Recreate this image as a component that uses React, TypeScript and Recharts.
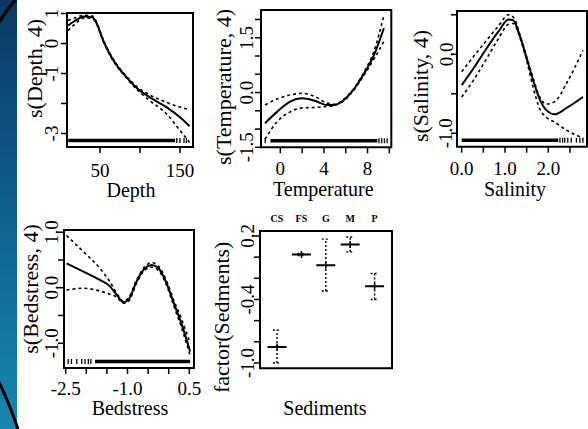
import React from "react";
import {
  ComposedChart,
  ErrorBar,
  Line,
  ReferenceArea,
  Scatter,
  XAxis,
  YAxis,
} from "recharts";

// values (GAM partial effects)
const depthX = [10, 20, 30, 40, 46, 54, 62, 71, 83, 96, 112, 133, 150, 162];
const depthFit = [0.6, 0.78, 0.9, 0.88, 0.66, 0.1, -0.34, -0.73, -1.12, -1.48, -1.79, -2.12, -2.46, -2.76];
const depthUpper = [0.77, 0.87, 0.94, 0.92, 0.69, 0.13, -0.31, -0.7, -1.09, -1.44, -1.71, -1.96, -2.12, -2.21];
const depthLower = [0.43, 0.68, 0.85, 0.84, 0.63, 0.07, -0.37, -0.76, -1.15, -1.53, -1.9, -2.34, -2.9, -3.3];
const depthRugBand = [10.4, 143.8];
const depthRugTicks = [146, 150, 155, 158];

const temperatureX = [-1.4, -0.3, 0.9, 2.0, 3.1, 4.3, 4.9, 5.8, 6.7, 7.6, 8.6, 9.5];
const temperatureFit = [-0.84, -0.53, -0.25, -0.16, -0.22, -0.34, -0.34, -0.21, 0.07, 0.48, 1.03, 1.76];
const temperatureUpper = [-0.34, -0.18, -0.07, -0.02, -0.1, -0.29, -0.32, -0.19, 0.09, 0.52, 1.14, 2.1];
const temperatureLower = [-1.28, -0.8, -0.53, -0.42, -0.41, -0.38, -0.36, -0.23, 0.05, 0.44, 0.92, 1.4];
const temperatureRugBand = [-0.9, 8.9];
const temperatureRugTicks = [-1.38, 9.05, 9.3, 9.55, 9.8];

const salinityX = [0, 0.27, 0.58, 0.85, 1.08, 1.19, 1.35, 1.5, 1.65, 1.81, 1.96, 2.15, 2.42, 2.8];
const salinityFit = [-0.39, -0.18, 0.08, 0.29, 0.44, 0.43, 0.22, -0.05, -0.33, -0.58, -0.71, -0.76, -0.68, -0.54];
const salinityUpper = [-0.22, -0.03, 0.18, 0.36, 0.5, 0.47, 0.24, -0.03, -0.3, -0.55, -0.63, -0.6, -0.37, 0.05];
const salinityLower = [-0.54, -0.33, -0.05, 0.2, 0.38, 0.39, 0.2, -0.08, -0.42, -0.7, -0.8, -0.86, -0.96, -1.06];
const salinityRugBand = [0, 2.23];
const salinityRugTicks = [2.27, 2.33, 2.38, 2.45, 2.53, 2.65, 2.73, 2.8];

const bedstressX = [-2.48, -2.07, -1.67, -1.42, -1.26, -1.1, -0.98, -0.78, -0.58, -0.41, -0.25, -0.05, 0.11, 0.32, 0.52];
const bedstressFit = [0.44, 0.29, 0.14, 0.02, -0.13, -0.26, -0.22, 0.11, 0.35, 0.41, 0.35, 0.08, -0.25, -0.67, -1.15];
const bedstressUpper = [0.94, 0.65, 0.35, 0.1, -0.1, -0.24, -0.19, 0.14, 0.38, 0.45, 0.39, 0.12, -0.2, -0.58, -1.0];
const bedstressLower = [-0.04, -0.01, -0.06, -0.12, -0.17, -0.28, -0.25, 0.08, 0.32, 0.37, 0.31, 0.04, -0.3, -0.74, -1.22];
const bedstressRugBand = [-1.79, 0.52];
const bedstressRugTicks = [-2.44, -2.36, -2.23, -2.11, -2.03, -1.95, -1.89];

const sedimentNames = ["CS", "FS", "G", "M", "P"];
const sedimentMean = [-0.85, 0.024, -0.077, 0.12, -0.275];
const sedimentUpper = [-0.69, 0.034, 0.17, 0.19, -0.155];
const sedimentLower = [-1.0, 0.014, -0.32, 0.05, -0.4];

const FONT = "'Liberation Serif', 'Times New Roman', serif";
const PAD_L = 70;
const PAD_T = 25;
const PAD_R = 10;
const PAD_B = 70;

type Spec = {
  box: number[];
  xDomain: number[];
  yDomain: number[];
  xTicks: number[];
  xLabeled: number[];
  xDec: number;
  yTicks: number[];
  yLabeled: number[];
  yDec: number;
  yTickX: number;
  xTickY: number;
  xTitle: string;
  xTitlePos: number[];
  yTitle: string;
  yTitlePos: number[];
  names?: string[];
};

const has = (list: number[], v: number) => list.some((l) => Math.abs(l - v) < 1e-9);

function Panel({ s, data, children }: { s: Spec; data?: any[]; children: React.ReactNode }) {
  const left = s.box[0] - PAD_L;
  const top = s.box[1] - PAD_T;
  const w = s.box[2] - s.box[0];
  const h = s.box[3] - s.box[1];

  const xTick = (p: any) => {
    const v = p.payload.value;
    if (s.names) {
      return (
        <text x={p.x} y={s.box[1] - 12 - top} textAnchor="middle" dominantBaseline="central"
          fontSize={10} fontWeight="bold" fontFamily={FONT} fill="#000">
          {s.names[Math.round(v) - 1]}
        </text>
      );
    }
    if (!has(s.xLabeled, v)) return <g />;
    return (
      <text x={p.x} y={s.xTickY - top} textAnchor="middle" dominantBaseline="central"
        fontSize={19} fontFamily={FONT} fill="#000">
        {v.toFixed(s.xDec)}
      </text>
    );
  };

  const yTick = (p: any) => {
    const v = p.payload.value;
    if (!has(s.yLabeled, v)) return <g />;
    const x = s.yTickX - left;
    return (
      <text x={x} y={p.y} transform={`rotate(-90 ${x} ${p.y})`} textAnchor="middle"
        dominantBaseline="central" fontSize={19} fontFamily={FONT} fill="#000">
        {v.toFixed(s.yDec)}
      </text>
    );
  };

  const xTitle = () => (
    <text x={s.xTitlePos[0] - left} y={s.xTitlePos[1] - top} textAnchor="middle"
      dominantBaseline="central" fontSize={20} fontFamily={FONT} fill="#000">
      {s.xTitle}
    </text>
  );

  const yTitle = () => {
    const x = s.yTitlePos[0] - left;
    const y = s.yTitlePos[1] - top;
    return (
      <text x={0} y={0} transform={`translate(${x} ${y}) rotate(-90) scale(1.1 1)`}
        textAnchor="middle" dominantBaseline="central" fontSize={20} fontFamily={FONT}
        fill="#000">
        {s.yTitle}
      </text>
    );
  };

  return (
    <div style={{ position: "absolute", left, top }}>
      <ComposedChart width={w + PAD_L + PAD_R} height={h + PAD_T + PAD_B} data={data}
        margin={{ top: PAD_T, right: PAD_R, bottom: 0, left: 0 }}>
        <XAxis type="number" dataKey="x" domain={s.xDomain} allowDataOverflow ticks={s.xTicks}
          interval={0} height={PAD_B} axisLine={false}
          tickLine={s.names ? false : { stroke: "#000", strokeWidth: 1.5 }} tickSize={6}
          tick={xTick} label={xTitle} />
        <YAxis type="number" domain={s.yDomain} allowDataOverflow ticks={s.yTicks} interval={0}
          width={PAD_L} axisLine={false} tickLine={{ stroke: "#000", strokeWidth: 1.5 }}
          tickSize={6} tick={yTick} label={yTitle} />
        <ReferenceArea x1={s.xDomain[0]} x2={s.xDomain[1]} y1={s.yDomain[0]} y2={s.yDomain[1]}
          fill="none" fillOpacity={0} stroke="#000" strokeWidth={2} />
        {children}
      </ComposedChart>
    </div>
  );
}

const RugTick = (p: any) => (
  <line x1={p.cx} x2={p.cx} y1={p.cy - 9} y2={p.cy - 4} stroke="#000" strokeWidth={1.3} />
);

const MeanMark = (p: any) => (
  <g stroke="#000">
    <line x1={p.cx - 9.5} x2={p.cx + 9.5} y1={p.cy} y2={p.cy} strokeWidth={2} />
    <line x1={p.cx} x2={p.cx} y1={p.cy - 3.5} y2={p.cy + 3.5} strokeWidth={1.5} />
  </g>
);

function SmoothPanel({ s, xs, fit, upper, lower, rugBand, rugTicks }: {
  s: Spec; xs: number[]; fit: number[]; upper: number[]; lower: number[];
  rugBand: number[]; rugTicks: number[];
}) {
  const rows = xs.map((x, i) => ({ x, fit: fit[i], upper: upper[i], lower: lower[i] }));
  const h = s.box[3] - s.box[1];
  const span = s.yDomain[1] - s.yDomain[0];
  const rugY = s.yDomain[0] + (6.5 / h) * span;
  const band = rugBand.map((x) => ({ x, rug: rugY }));
  const ticks = rugTicks.map((x) => ({ x, y: s.yDomain[0] }));
  return (
    <Panel s={s} data={rows}>
      <Line data={band} dataKey="rug" stroke="#000" strokeWidth={3.5} dot={false}
        strokeLinecap="butt" isAnimationActive={false} />
      <Scatter data={ticks} dataKey="y" shape={RugTick} isAnimationActive={false} />
      <Line type="monotone" dataKey="upper" stroke="#000" strokeWidth={1.6}
        strokeDasharray="3 3" dot={false} isAnimationActive={false} />
      <Line type="monotone" dataKey="lower" stroke="#000" strokeWidth={1.6}
        strokeDasharray="3 3" dot={false} isAnimationActive={false} />
      <Line type="monotone" dataKey="fit" stroke="#000" strokeWidth={2} dot={false}
        isAnimationActive={false} />
    </Panel>
  );
}

const depthSpec: Spec = {
  box: [67, 12.5, 193, 146.5], xDomain: [8.75, 166.25], yDomain: [-3.45, 1.017],
  xTicks: [50, 100, 150], xLabeled: [50, 150], xDec: 0,
  yTicks: [-3, -2, -1, 0, 1], yLabeled: [-3, -1, 0, 1], yDec: 0,
  yTickX: 52, xTickY: 170, xTitle: "Depth", xTitlePos: [131, 189],
  yTitle: "s(Depth, 4)", yTitlePos: [35, 68],
};

const temperatureSpec: Spec = {
  box: [260.7, 10, 391, 147.3], xDomain: [-1.77, 10.18], yDomain: [-1.5, 2.26],
  xTicks: [0, 2, 4, 6, 8, 10], xLabeled: [0, 4, 8], xDec: 0,
  yTicks: [-1.5, -1, -0.5, 0, 0.5, 1, 1.5, 2], yLabeled: [-1.5, 0, 1.5], yDec: 1,
  yTickX: 246, xTickY: 169, xTitle: "Temperature", xTitlePos: [323, 189],
  yTitle: "s(Temperature, 4)", yTitlePos: [224, 87],
};

const salinitySpec: Spec = {
  box: [457, 11, 587, 146.7], xDomain: [-0.109, 2.894], yDomain: [-1.17, 0.548],
  xTicks: [0, 0.5, 1, 1.5, 2, 2.5], xLabeled: [0, 1, 2], xDec: 1,
  yTicks: [-1, -0.5, 0, 0.5], yLabeled: [-1, 0], yDec: 1,
  yTickX: 446, xTickY: 169, xTitle: "Salinity", xTitlePos: [515, 189],
  yTitle: "s(Salinity, 4)", yTitlePos: [421, 86],
};

const bedstressSpec: Spec = {
  box: [64, 230, 194, 368], xDomain: [-2.541, 0.614], yDomain: [-1.447, 1.04],
  xTicks: [-2.5, -2, -1.5, -1, -0.5, 0, 0.5], xLabeled: [-2.5, -1, 0.5], xDec: 1,
  yTicks: [-1, -0.5, 0, 0.5, 1], yLabeled: [-1, 0, 1], yDec: 1,
  yTickX: 51.5, xTickY: 388, xTitle: "Bedstress", xTitlePos: [130, 408],
  yTitle: "s(Bedstress, 4)", yTitlePos: [31, 289],
};

const sedimentSpec: Spec = {
  box: [260, 230.7, 392, 368], xDomain: [0.303, 5.713], yDomain: [-1.0505, 0.247],
  xTicks: [1, 2, 3, 4, 5], xLabeled: [], xDec: 0,
  yTicks: [-1, -0.8, -0.6, -0.4, -0.2, 0, 0.2], yLabeled: [-1, -0.4, 0.2], yDec: 1,
  yTickX: 248, xTickY: 388, xTitle: "Sediments", xTitlePos: [325, 408],
  yTitle: "factor(Sedments)", yTitlePos: [222, 317], names: sedimentNames,
};

function SedimentPanel() {
  const rows = sedimentNames.map((_, i) => ({
    x: i + 1,
    y: sedimentMean[i],
    err: [sedimentMean[i] - sedimentLower[i], sedimentUpper[i] - sedimentMean[i]],
  }));
  return (
    <Panel s={sedimentSpec}>
      <Scatter data={rows} dataKey="y" shape={MeanMark} isAnimationActive={false}>
        <ErrorBar dataKey="err" direction="y" width={4} stroke="#000" strokeWidth={1.4}
          strokeDasharray="2 2" isAnimationActive={false} />
      </Scatter>
    </Panel>
  );
}

export default function App() {
  return (
    <div style={{ position: "absolute", left: 0, top: 0, width: 588, height: 429,
      background: "#fff", overflow: "hidden" }}>
      <svg width={588} height={429} style={{ position: "absolute", left: 0, top: 0 }}>
        <defs>
          <linearGradient id="slideBg" x1="0" y1="0" x2="0" y2="1">
            <stop offset="0%" stopColor="#0b3865" />
            <stop offset="55%" stopColor="#0f6595" />
            <stop offset="100%" stopColor="#1587b0" />
          </linearGradient>
        </defs>
        <rect x={0} y={0} width={17} height={429} fill="url(#slideBg)" />
        <path d="M 17 -2 Q 6 10 -3 26" stroke="#000" strokeWidth={3} fill="none" />
        <path d="M -3 378 Q 9 402 19 432" stroke="#000" strokeWidth={3} fill="none" />
      </svg>
      <SmoothPanel s={depthSpec} xs={depthX} fit={depthFit} upper={depthUpper}
        lower={depthLower} rugBand={depthRugBand} rugTicks={depthRugTicks} />
      <SmoothPanel s={temperatureSpec} xs={temperatureX} fit={temperatureFit}
        upper={temperatureUpper} lower={temperatureLower} rugBand={temperatureRugBand}
        rugTicks={temperatureRugTicks} />
      <SmoothPanel s={salinitySpec} xs={salinityX} fit={salinityFit} upper={salinityUpper}
        lower={salinityLower} rugBand={salinityRugBand} rugTicks={salinityRugTicks} />
      <SmoothPanel s={bedstressSpec} xs={bedstressX} fit={bedstressFit} upper={bedstressUpper}
        lower={bedstressLower} rugBand={bedstressRugBand} rugTicks={bedstressRugTicks} />
      <SedimentPanel />
    </div>
  );
}
